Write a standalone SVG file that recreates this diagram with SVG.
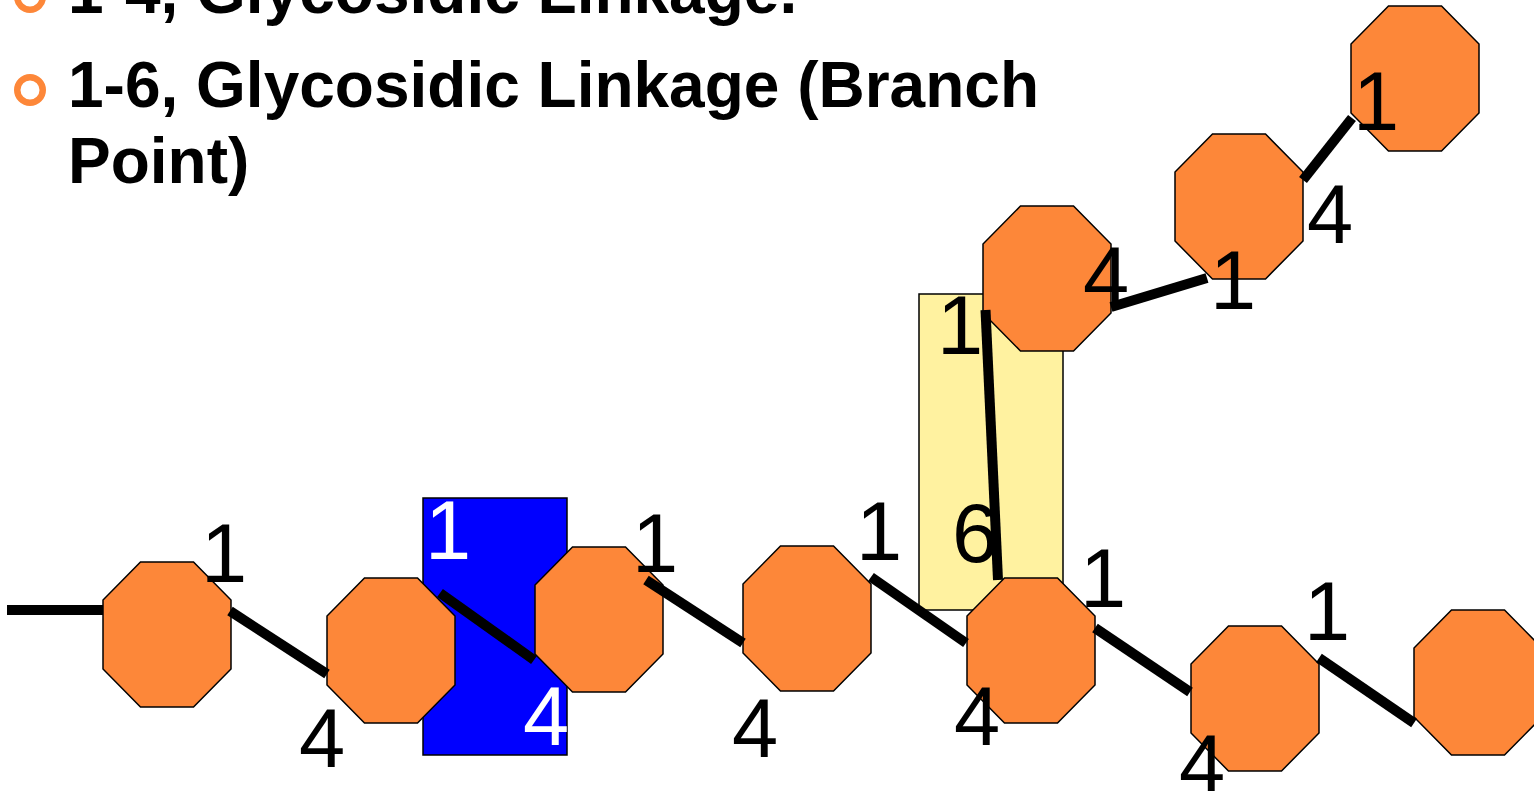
<svg xmlns="http://www.w3.org/2000/svg" xmlns:xlink="http://www.w3.org/1999/xlink" width="1534" height="791" viewBox="0 0 1534 791">
  <style>
    .hd { font-family: "Liberation Sans", Arial, sans-serif; font-weight: bold; font-size: 64px; fill: #000; }
    .bul { fill: none; stroke: #FD8739; stroke-width: 6.5; }
    .sugar { fill: #FD8739; stroke: #000; stroke-width: 1.5; }
    .lbl { font-family: "Liberation Sans", Arial, sans-serif; font-size: 83px; fill: #000; }
    .lbl.w { fill: #fff; }
    .bond { stroke: #000; stroke-width: 10; stroke-linecap: butt; fill: none; }
  </style>
  <defs>
    <polygon id="oct" points="37.5,0 90.5,0 128,38 128,107 90.5,145 37.5,145 0,107 0,38"/>
  </defs>

  <!-- bullet list -->
  <g id="bullets">
    <circle class="bul" cx="30" cy="-3" r="12.75"/>
    <text class="hd" x="68" y="13">1-4, Glycosidic Linkage.</text>
    <circle class="bul" cx="30" cy="90" r="12.75"/>
    <text class="hd" x="68" y="107">1-6, Glycosidic Linkage (Branch</text>
    <text class="hd" x="68" y="183">Point)</text>
  </g>

  <!-- highlight boxes -->
  <rect id="hl-14" x="423" y="498" width="144" height="257" fill="#0000FF" stroke="#000" stroke-width="1.5"/>
  <rect id="hl-16" x="919" y="294" width="144" height="316" fill="#FFF2A0" stroke="#000" stroke-width="1.5"/>

  <!-- glucose units -->
  <g id="glc1"><use href="#oct" class="sugar" x="103" y="562"/></g>
  <g id="glc2"><use href="#oct" class="sugar" x="327" y="578"/></g>
  <g id="glc3"><use href="#oct" class="sugar" x="535" y="547"/></g>
  <g id="glc4"><use href="#oct" class="sugar" x="743" y="546"/></g>
  <g id="glc5"><use href="#oct" class="sugar" x="967" y="578"/></g>
  <g id="glc6"><use href="#oct" class="sugar" x="1191" y="626"/></g>
  <g id="glc7"><use href="#oct" class="sugar" x="1414" y="610"/></g>
  <g id="glc8"><use href="#oct" class="sugar" x="983" y="206"/></g>
  <g id="glc9"><use href="#oct" class="sugar" x="1175" y="134"/></g>
  <g id="glc10"><use href="#oct" class="sugar" x="1351" y="6"/></g>

  <!-- carbon position numbers -->
  <g id="labels">
    <text class="lbl" x="201" y="582">1</text>
    <text class="lbl" x="299" y="767">4</text>
    <text class="lbl w" x="425" y="559">1</text>
    <text class="lbl w" x="523" y="745">4</text>
    <text class="lbl" x="632" y="572">1</text>
    <text class="lbl" x="732" y="757">4</text>
    <text class="lbl" x="856" y="560">1</text>
    <text class="lbl" x="952" y="562">6</text>
    <text class="lbl" x="1080" y="607">1</text>
    <text class="lbl" x="954" y="745">4</text>
    <text class="lbl" x="1304" y="640">1</text>
    <text class="lbl" x="1179" y="793">4</text>
    <text class="lbl" x="937" y="354">1</text>
    <text class="lbl" x="1083" y="305">4</text>
    <text class="lbl" x="1210" y="309">1</text>
    <text class="lbl" x="1307" y="243">4</text>
    <text class="lbl" x="1353" y="130">1</text>
  </g>

  <!-- glycosidic bonds -->
  <g id="bonds">
    <line class="bond" x1="7" y1="610" x2="103" y2="610"/>
    <line class="bond" x1="230" y1="611" x2="327" y2="674"/>
    <line class="bond" x1="440" y1="593" x2="534" y2="660"/>
    <line class="bond" x1="646" y1="580" x2="743" y2="643"/>
    <line class="bond" x1="871" y1="577" x2="966" y2="643"/>
    <line class="bond" x1="1095" y1="628" x2="1190" y2="692"/>
    <line class="bond" x1="1319" y1="658" x2="1414" y2="723"/>
    <line class="bond" x1="985.5" y1="310" x2="998" y2="580"/>
    <line class="bond" x1="1111" y1="307" x2="1207" y2="278"/>
    <line class="bond" x1="1303" y1="180" x2="1352" y2="118"/>
  </g>
</svg>
